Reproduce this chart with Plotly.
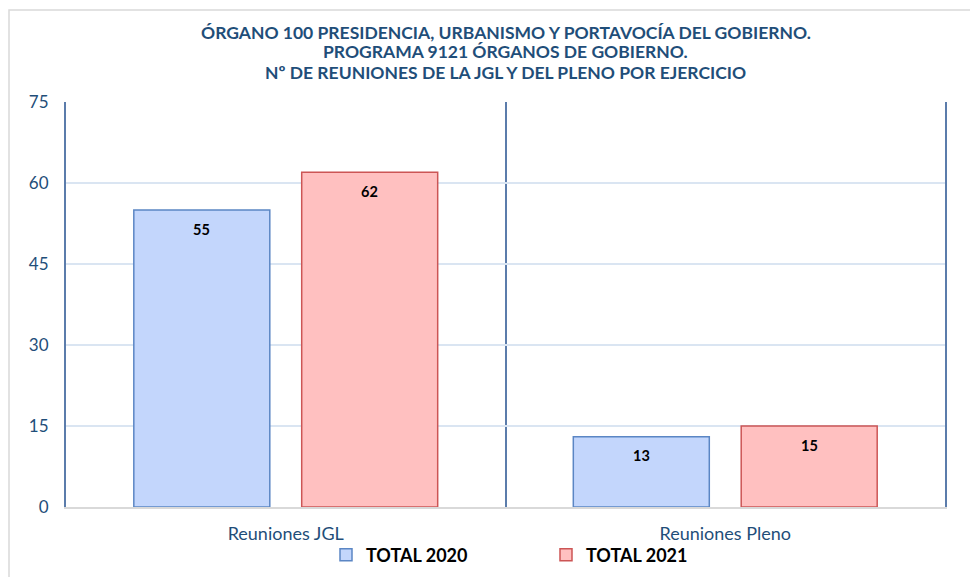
import plotly.graph_objects as go

categories = ["Reuniones JGL", "Reuniones Pleno"]
series_names = ["TOTAL 2020", "TOTAL 2021"]
values_2020 = [55, 13]
values_2021 = [62, 15]
y_ticks = [0, 15, 30, 45, 60, 75]

title_lines = [
    "ÓRGANO 100 PRESIDENCIA, URBANISMO Y PORTAVOCÍA DEL GOBIERNO.",
    "PROGRAMA 9121 ÓRGANOS DE GOBIERNO.",
    "Nº DE REUNIONES DE LA JGL Y DEL PLENO POR EJERCICIO",
]

# page body has an 8px margin, so the figure is laid out 8px in from the window edge
OFF = 8
W, H = 978 - OFF, 577 - OFF
ML, MR, MT, MB = 66 - OFF, 33, 102 - OFF, 70
FONT = "Lato, 'Open Sans', sans-serif"
DARK = "#1f4e79"

fig = go.Figure()
fig.add_trace(go.Bar(
    name=series_names[0], x=categories, y=values_2020,
    marker=dict(color="#c3d6fc", line=dict(color="#5b86c4", width=1.5)),
))
fig.add_trace(go.Bar(
    name=series_names[1], x=categories, y=values_2021,
    marker=dict(color="#ffc0c0", line=dict(color="#cc5555", width=1.5)),
))

pw = W - ML - MR
ph = H - MT - MB

annotations = []
for vals, shift in ((values_2020, -84), (values_2021, 84)):
    for c, v in zip(categories, vals):
        annotations.append(dict(
            x=c, y=v, xref="x", yref="y", text=f"<b>{v}</b>", showarrow=False,
            xshift=shift, yshift=-19, yanchor="middle",
            font=dict(family=FONT, size=14.5, color="#000000"),
        ))

# title lines as centred text at fixed pixel rows (window coords)
for line, ypix in zip(title_lines, (32, 52, 72)):
    annotations.append(dict(
        x=0.5, xref="paper", y=1 + (MT - (ypix - OFF)) / ph, yref="paper",
        text=f"<b>{line}</b>", showarrow=False, xanchor="center", yanchor="middle",
        font=dict(family=FONT, size=17.5, color=DARK),
    ))

shapes = [dict(
    type="rect", xref="paper", yref="paper",
    x0=(9 - OFF - ML) / pw, x1=(W + 5 - ML) / pw,
    y0=-(H + 5 - MT - ph) / ph, y1=(MT - (10 - OFF)) / ph + 1,
    line=dict(color="#d9d9d9", width=1.5), layer="below",
)]

fig.update_layout(
    width=W, height=H,
    margin=dict(l=ML, r=MR, t=MT, b=MB, autoexpand=False),
    paper_bgcolor="white", plot_bgcolor="white",
    barmode="group", bargap=0.236, bargroupgap=0.19,
    xaxis=dict(
        tickson="boundaries", showgrid=True, gridcolor="#5b7cab", gridwidth=1.5,
        showline=True, linecolor="#d9d9d9", linewidth=1.5, automargin=False,
        ticks="", tickfont=dict(family=FONT, size=18, color=DARK),
        ticklabelstandoff=10,
    ),
    yaxis=dict(
        range=[0, 75], tickvals=y_ticks, showgrid=True, gridcolor="#dae5f2",
        gridwidth=1.5, showline=True, linecolor="#5b7cab", linewidth=2, mirror=True,
        automargin=False, zeroline=False, ticks="",
        tickfont=dict(family=FONT, size=17, color=DARK),
        ticklabelstandoff=12,
    ),
    legend=dict(
        orientation="h", x=(326 - OFF - ML) / pw, xanchor="left",
        y=-(555 - OFF - (H - MB)) / ph, yanchor="middle",
        entrywidth=175, entrywidthmode="pixels",
        font=dict(family=FONT, size=18, color="#000000", weight="bold"),
        bgcolor="rgba(0,0,0,0)",
    ),
    annotations=annotations,
    shapes=shapes,
)

fig.write_html("out.html")
